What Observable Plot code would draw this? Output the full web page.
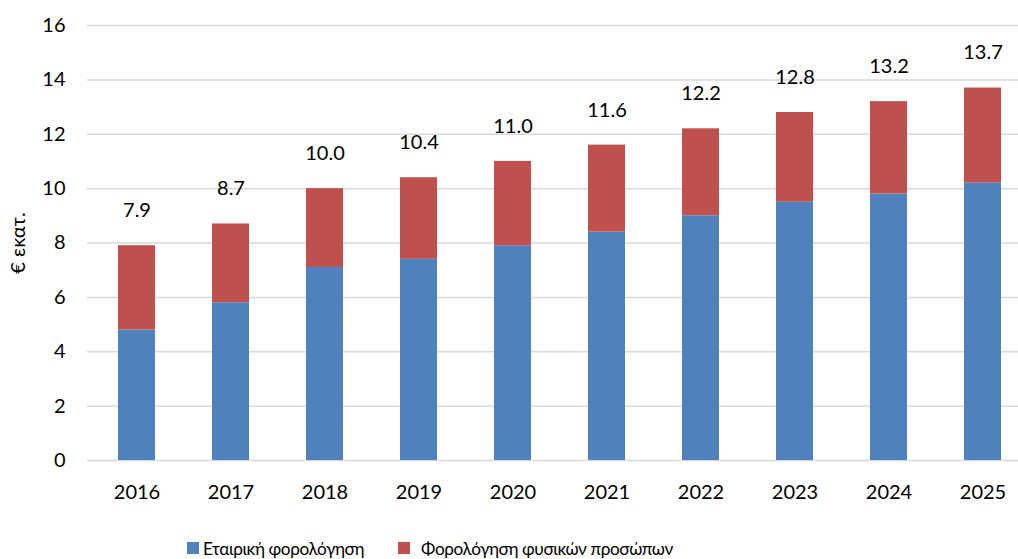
<!DOCTYPE html>
<html>
<head>
<meta charset="utf-8">
<script src="https://cdn.jsdelivr.net/npm/d3@7"></script>
<script src="https://cdn.jsdelivr.net/npm/@observablehq/plot@0.6"></script>
<style>
  body { margin: 0; background: #fff; font-family: Lato, "Open Sans", sans-serif; }
  #chart svg { display: block; }
  #legend { position: relative; width: 1018px; height: 29px; font-size: 17.2px; color: #000; overflow: hidden; }
  .item { position: absolute; top: 8px; display: flex; align-items: center; height: 20px; white-space: nowrap; letter-spacing: -0.4px; }
  .swatch { width: 12px; height: 12px; margin-right: 4px; }
</style>
</head>
<body>
<div id="chart"></div>
<div id="legend"></div>
<script>
// Tax revenue by year, in € millions
const years = ["2016", "2017", "2018", "2019", "2020", "2021", "2022", "2023", "2024", "2025"];
const corporate = [4.8, 5.8, 7.1, 7.4, 7.9, 8.4, 9.0, 9.5, 9.8, 10.2];
const personal  = [3.1, 2.9, 2.9, 3.0, 3.1, 3.2, 3.2, 3.3, 3.4, 3.5];
const seriesNames = ["Εταιρική φορολόγηση", "Φορολόγηση φυσικών προσώπων"];
const seriesColors = ["#4f81bd", "#c0504d"];
const yTicks = [0, 2, 4, 6, 8, 10, 12, 14, 16];
const yLabel = "€ εκατ.";

// Long table for the stacked bars
const rows = years.flatMap((year, i) => [
  {year, series: seriesNames[0], value: corporate[i]},
  {year, series: seriesNames[1], value: personal[i]}
]);
const totals = years.map((year, i) => ({year, total: corporate[i] + personal[i]}));

const font = "Lato, 'Open Sans', sans-serif";

const chart = Plot.plot({
  width: 1018,
  height: 530,
  marginTop: 25,
  marginBottom: 70,
  marginLeft: 87,
  marginRight: 0,
  style: {fontFamily: font, fontSize: "20px", color: "#000", background: "#fff", overflow: "visible"},
  x: {
    domain: years,
    range: [87.4, 1032.5],
    paddingInner: 0.605,
    paddingOuter: 0.3025,
    tickSize: 0,
    tickPadding: 24,
    label: null
  },
  y: {
    domain: [0, 16],
    ticks: yTicks,
    tickSize: 0,
    tickPadding: 22,
    label: null
  },
  color: {domain: seriesNames, range: seriesColors},
  marks: [
    Plot.ruleY(yTicks, {stroke: "#d9d9d9", strokeWidth: 1.5}),
    Plot.barY(rows, {x: "year", y: "value", fill: "series", order: seriesNames}),
    Plot.text(totals, {x: "year", y: "total", text: d => d.total.toFixed(1), dy: -35, fontSize: 20, fill: "#000"}),
    // Rotated axis title, shifted left of the frame
    Plot.text([yLabel], {frameAnchor: "left", textAnchor: "middle", rotate: -90, dx: -69, fontSize: 20, fill: "#000"})
  ]
});
document.getElementById("chart").appendChild(chart);

// Legend below the chart
const legend = d3.select("#legend");
const legendX = [187, 398];
seriesNames.forEach((name, i) => {
  const item = legend.append("div").attr("class", "item").style("left", legendX[i] + "px");
  item.append("div").attr("class", "swatch").style("background", seriesColors[i]);
  item.append("span").text(name).style("margin-left", i === 1 ? "7px" : "0px");
});
</script>
</body>
</html>
